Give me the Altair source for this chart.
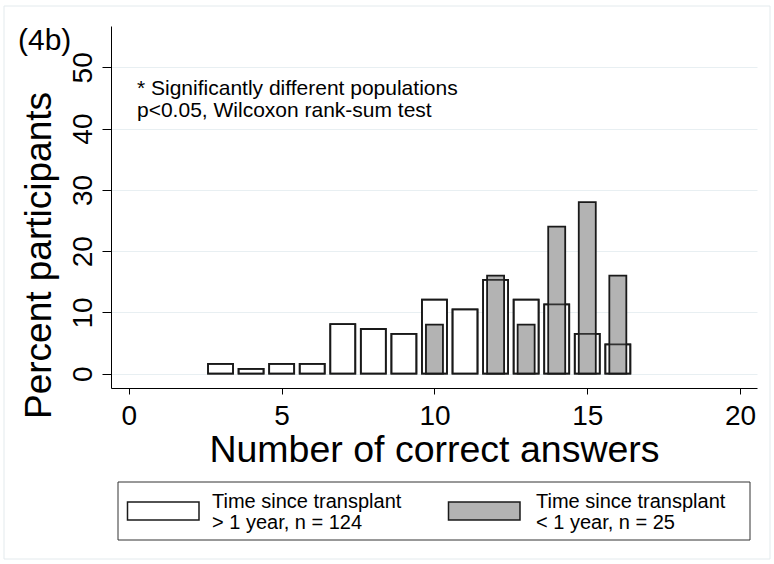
import altair as alt
import pandas as pd

# ---- data ----
scores_long = [3, 4, 5, 6, 7, 8, 9, 10, 11, 12, 13, 14, 15, 16]
pct_long = [1.6, 0.8, 1.6, 1.6, 8.1, 7.3, 6.5, 12.1, 10.5, 15.3, 12.1, 11.3, 6.5, 4.8]
scores_short = [10, 12, 13, 14, 15, 16]
pct_short = [8, 16, 8, 24, 28, 16]

legend_head = "Time since transplant"
series_names = ["> 1 year, n = 124", "< 1 year, n = 25"]
series_fill = ["white", "#b3b3b3"]
x_ticks = [0, 5, 10, 15, 20]
y_ticks = [0, 10, 20, 30, 40, 50]
note_lines = ["* Significantly different populations", "p<0.05, Wilcoxon rank-sum test"]
panel_label = "(4b)"
x_title = "Number of correct answers"
y_title = "Percent participants"

FONT = "Liberation Sans"
LEFT, TOP = 111, 26
W, H = 646, 362
EDGE = "#1a1a1a"

long_df = pd.DataFrame({"score": scores_long, "pct": pct_long})
short_df = pd.DataFrame({"score": scores_short, "pct": pct_short})

xscale = alt.Scale(domain=[-0.42, 20.39], nice=False, zero=False)
yscale = alt.Scale(domain=[-2.33, 56.74], nice=False, zero=False)

xaxis = alt.Axis(
    values=x_ticks, title=x_title, grid=False,
    domainColor="black", domainWidth=1, tickColor="black", tickSize=6, tickWidth=1,
    labelFont=FONT, labelFontSize=28, labelColor="black",
    labelBaseline="alphabetic", labelAlign="center", labelPadding=30,
    labelFlush=False, labelOverlap=False,
    titleFont=FONT, titleFontSize=37.5, titleFontWeight="normal", titleColor="black",
    titleBaseline="alphabetic", titleY=73.5,
)
yaxis = alt.Axis(
    values=y_ticks, title=y_title, grid=True, gridColor="#e8eff2", gridWidth=1,
    domainColor="black", domainWidth=1, tickColor="black", tickSize=9, tickWidth=1,
    labelFont=FONT, labelFontSize=28, labelColor="black",
    labelAngle=270, labelAlign="center", labelBaseline="alphabetic", labelPadding=11,
    labelFlush=False, labelOverlap=False,
    titleFont=FONT, titleFontSize=37, titleFontWeight="normal", titleColor="black",
    titleAngle=270, titleAlign="center", titleBaseline="alphabetic",
    titleX=-61, titleY=229,
)

X = alt.X("score:Q", scale=xscale, axis=xaxis)
Y = alt.Y("pct:Q", scale=yscale, axis=yaxis)

long_fill = alt.Chart(long_df).mark_bar(
    width=25, fill=series_fill[0], stroke=EDGE, strokeWidth=1.8
).encode(x=X, y=Y)
short_bars = alt.Chart(short_df).mark_bar(
    width=17, fill=series_fill[1], stroke=EDGE, strokeWidth=1.8
).encode(x=X, y=Y)
long_outline = alt.Chart(long_df).mark_bar(
    width=25, fill="white", fillOpacity=0, stroke=EDGE, strokeWidth=1.8, strokeOpacity=0.85
).encode(x=X, y=Y)


def text_layer(t, x, y, size, line_height=20):
    return alt.Chart(pd.DataFrame({"t": [t]})).mark_text(
        align="left", baseline="alphabetic", font=FONT, fontSize=size, color="black",
        lineBreak="\n", lineHeight=line_height,
    ).encode(x=alt.value(x - LEFT), y=alt.value(y - TOP), text="t:N")


def rect_layer(x1, y1, x2, y2, fill, stroke, sw, fill_opacity=1):
    return alt.Chart(pd.DataFrame({"k": [0]})).mark_rect(
        fill=fill, fillOpacity=fill_opacity, stroke=stroke, strokeWidth=sw
    ).encode(
        x=alt.value(x1 - LEFT), x2=alt.value(x2 - LEFT),
        y=alt.value(y1 - TOP), y2=alt.value(y2 - TOP),
    )


layers = [
    long_fill, short_bars, long_outline,
    rect_layer(4, 6, 770, 559, "white", "#e3eaed", 1, 0),
    text_layer(panel_label, 18, 50, 30),
    text_layer("\n".join(note_lines), 137, 94.5, 21, 22),
    # legend
    rect_layer(118, 482, 750, 540, "white", "#333333", 1),
    rect_layer(127.5, 502, 199, 520, series_fill[0], EDGE, 1.5),
    rect_layer(448.5, 502, 520, 520, series_fill[1], EDGE, 1.5),
    text_layer(legend_head + "\n" + series_names[0], 212, 508, 20, 21),
    text_layer(legend_head + "\n" + series_names[1], 536, 508, 20, 21),
]

chart = alt.layer(*layers).properties(
    width=W, height=H,
    autosize=alt.AutoSizeParams(type="none"),
    padding={"left": LEFT, "top": TOP, "right": 774 - LEFT - W, "bottom": 564 - TOP - H},
    background="white",
).configure_view(strokeWidth=0)

chart.save("out.html", embed_options={"renderer": "svg", "actions": False})
